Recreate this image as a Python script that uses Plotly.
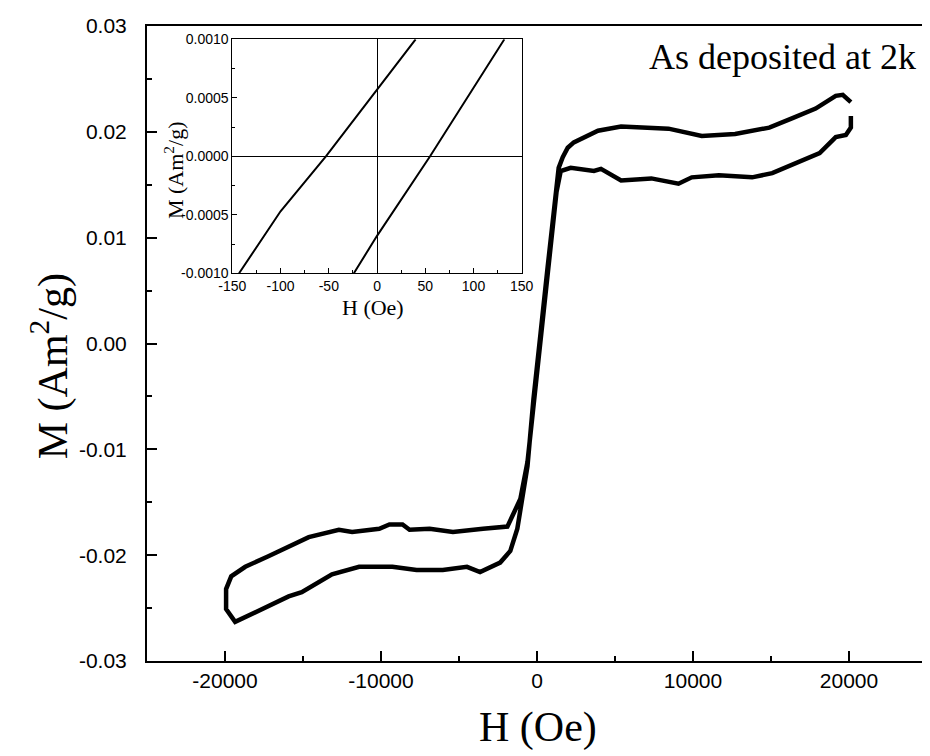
import plotly.graph_objects as go

# Main hysteresis loop (one continuous trace, open at the right end)
H_loop = [20120, 19600, 19150, 17860, 16380, 14890, 12700, 10560, 8430, 6230, 5390, 3910, 3000, 2360, 1970, 1650, 1390,
          1000, 680, 230, -230, -610, -940, -1260, -1710, -2360, -3650, -4490, -6040, -7720, -9270, -11400, -13140,
          -14180, -15080, -15920, -17020, -17860, -19350, -19930, -19930, -19600, -18700, -17220, -15730, -14630,
          -12700, -11850, -10110, -9460, -8620, -8170, -6880, -5390, -3460, -1900, -1580, -1070, -610, -230, 230, 680,
          1000, 1250, 1520, 2160, 3650, 4100, 5390, 7330, 9070, 9920, 11660, 13790, 15080, 16180, 18120, 19150, 19800,
          20120, 20120]
M_loop = [0.0228, 0.0235, 0.0234, 0.0222, 0.0213, 0.0204, 0.0198, 0.0196, 0.0203, 0.0204, 0.0205, 0.0201, 0.0194,
          0.0190, 0.0185, 0.0176, 0.0166, 0.0119, 0.0072, 0.0010, -0.0053, -0.0116, -0.0144, -0.0175, -0.0196,
          -0.0207, -0.0216, -0.0211, -0.0214, -0.0214, -0.0211, -0.0211, -0.0218, -0.0227, -0.0235, -0.0239, -0.0247,
          -0.0253, -0.0263, -0.0251, -0.0232, -0.0220, -0.0211, -0.0201, -0.0190, -0.0183, -0.0176, -0.0178, -0.0175,
          -0.0171, -0.0171, -0.0176, -0.0175, -0.0178, -0.0175, -0.0173, -0.0163, -0.0147, -0.0112, -0.0059, 0.0004,
          0.0067, 0.0113, 0.0143, 0.0163, 0.0166, 0.0163, 0.0165, 0.0154, 0.0156, 0.0151, 0.0157, 0.0159, 0.0157,
          0.0161, 0.0168, 0.0180, 0.0195, 0.0197, 0.0204, 0.0215]

# Inset branches (zoom near origin)
H_inset_a = [-143, -100, -53, 0, 40]
M_inset_a = [-0.0010, -0.00047, 0.0, 0.00057, 0.0010]
H_inset_b = [-24, 0, 55, 132]
M_inset_b = [-0.0010, -0.00068, 0.0, 0.0010]

main_ticks_x = [-20000, -10000, 0, 10000, 20000]
main_ticklabels_x = ["-20000", "-10000", "0", "10000", "20000"]
main_ticks_y = [-0.03, -0.02, -0.01, 0.00, 0.01, 0.02, 0.03]
main_ticklabels_y = ["-0.03", "-0.02", "-0.01", "0.00", "0.01", "0.02", "0.03"]
inset_ticks_x = [-150, -100, -50, 0, 50, 100, 150]
inset_ticklabels_x = ["-150", "-100", "-50", "0", "50", "100", "150"]
inset_ticks_y = [-0.0010, -0.0005, 0.0, 0.0005, 0.0010]
inset_ticklabels_y = ["-0.0010", "-0.0005", "0.0000", "0.0005", "0.0010"]

fig = go.Figure()
fig.add_trace(go.Scatter(x=H_loop, y=M_loop, mode="lines",
                         line=dict(color="black", width=4.5), xaxis="x", yaxis="y", showlegend=False))
fig.add_trace(go.Scatter(x=H_inset_a, y=M_inset_a, mode="lines",
                         line=dict(color="black", width=2), xaxis="x2", yaxis="y2", showlegend=False))
fig.add_trace(go.Scatter(x=H_inset_b, y=M_inset_b, mode="lines",
                         line=dict(color="black", width=2), xaxis="x2", yaxis="y2", showlegend=False))

sans = "Liberation Sans, Arial"
serif = "Liberation Serif, Times New Roman"
tick_font = dict(family=sans, size=21, color="black")
inset_tick_font = dict(family=sans, size=14, color="black")

fig.update_layout(
    width=922, height=748,
    margin=dict(l=139, r=3, t=18, b=95),
    paper_bgcolor="white", plot_bgcolor="white",
    xaxis=dict(domain=[0, 1], range=[-25000, 25000], tickvals=main_ticks_x, ticktext=main_ticklabels_x,
               ticks="inside", ticklen=10, tickwidth=1.5, tickcolor="black", ticklabelstandoff=0,
               minor=dict(ticks="inside", ticklen=5, dtick=5000, tick0=0, tickcolor="black", tickwidth=1.5),
               showline=True, linecolor="black", linewidth=2, mirror=True,
               showgrid=False, zeroline=False, tickfont=tick_font, automargin=False),
    yaxis=dict(domain=[0, 1], range=[-0.03, 0.03], tickvals=main_ticks_y, ticktext=main_ticklabels_y,
               ticks="inside", ticklen=10, tickwidth=1.5, tickcolor="black", ticklabelstandoff=14,
               minor=dict(ticks="inside", ticklen=5, dtick=0.005, tick0=0, tickcolor="black", tickwidth=1.5),
               showline=True, linecolor="black", linewidth=2, mirror=True,
               showgrid=False, zeroline=False, tickfont=tick_font, automargin=False),
    xaxis2=dict(domain=[0.1094, 0.4804], anchor="y2", range=[-150, 150], tickvals=inset_ticks_x,
                ticktext=inset_ticklabels_x,
                ticks="inside", ticklen=5, tickcolor="black",
                minor=dict(ticks="inside", ticklen=3, dtick=25, tick0=0, tickcolor="black"),
                showline=True, linecolor="black", linewidth=1, mirror=True,
                showgrid=False, zeroline=True, zerolinecolor="black", zerolinewidth=1,
                tickfont=inset_tick_font, automargin=False),
    yaxis2=dict(domain=[0.6106, 0.979], anchor="x2", range=[-0.001, 0.001], tickvals=inset_ticks_y,
                ticktext=inset_ticklabels_y,
                ticks="inside", ticklen=5, tickcolor="black",
                minor=dict(ticks="inside", ticklen=3, dtick=0.00025, tick0=0, tickcolor="black"),
                showline=True, linecolor="black", linewidth=1, mirror=True,
                showgrid=False, zeroline=True, zerolinecolor="black", zerolinewidth=1,
                tickfont=inset_tick_font, automargin=False),
    annotations=[
        dict(text="As deposited at 2k", xref="paper", yref="paper", x=0.9885, y=0.951,
             xanchor="right", yanchor="middle", showarrow=False,
             font=dict(family=serif, size=36, color="black")),
        dict(text="H (Oe)", xref="paper", yref="paper", x=0.5013, y=-0.104,
             xanchor="center", yanchor="middle", showarrow=False,
             font=dict(family=serif, size=42, color="black")),
        dict(text="M (Am<sup>2</sup>/g)", xref="paper", yref="paper", x=-0.124, y=0.4646,
             xanchor="center", yanchor="middle", textangle=-90, showarrow=False,
             font=dict(family=serif, size=42, color="black")),
        dict(text="H (Oe)", xref="paper", yref="paper", x=0.2897, y=0.556,
             xanchor="center", yanchor="middle", showarrow=False,
             font=dict(family=serif, size=22, color="black")),
        dict(text="M (Am<sup>2</sup>/g)", xref="paper", yref="paper", x=0.0345, y=0.773,
             xanchor="center", yanchor="middle", textangle=-90, showarrow=False,
             font=dict(family=serif, size=22, color="black")),
    ],
)

fig.write_html("out.html")
